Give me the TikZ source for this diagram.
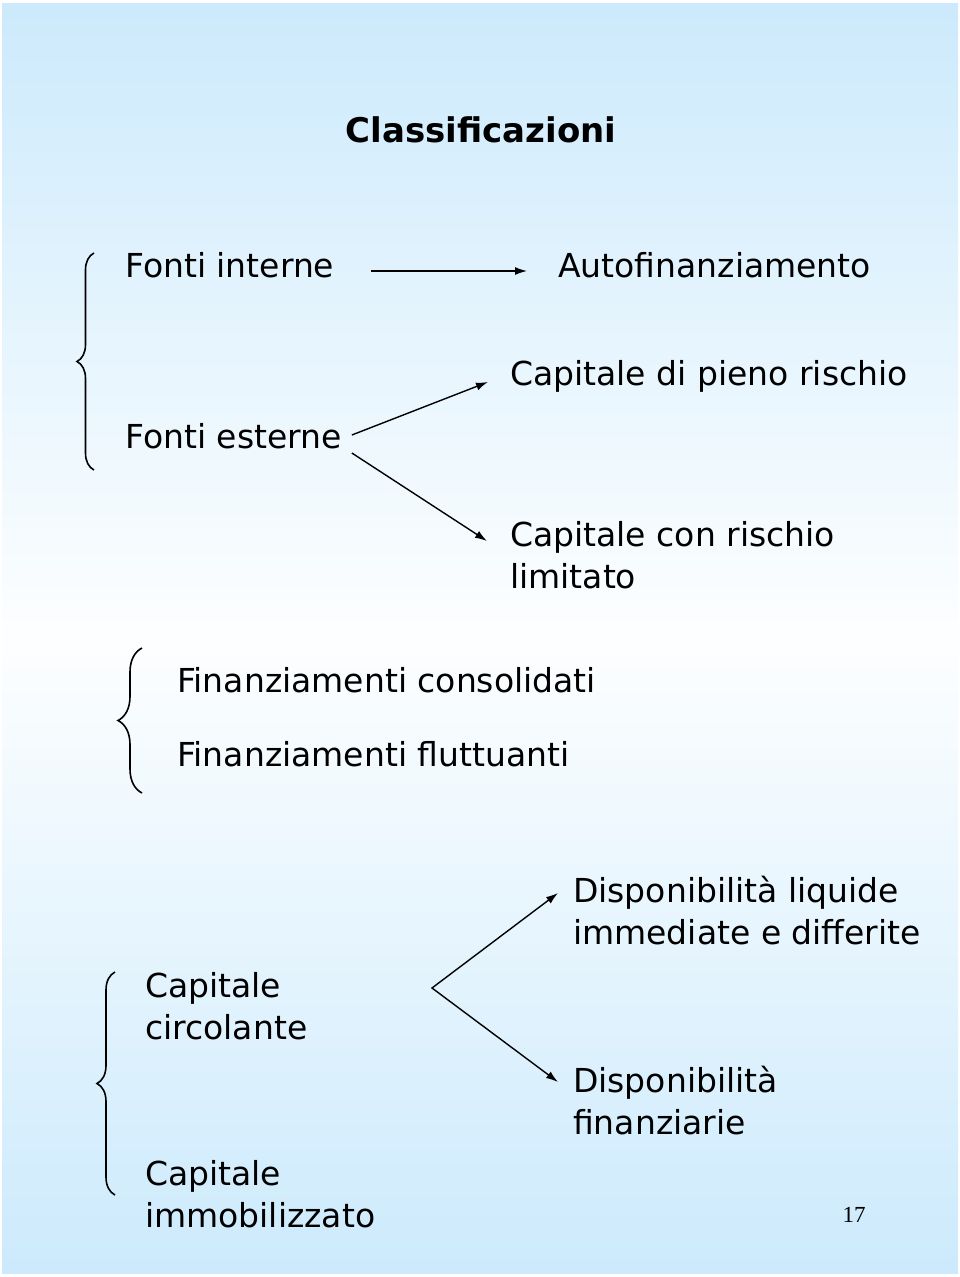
\documentclass[tikz,border=0pt]{standalone}
\usepackage{fontspec}
\setmainfont{DejaVu Sans}
\newfontfamily\pagenumfont{Liberation Serif}
\usepackage{xcolor}
\usetikzlibrary{arrows.meta,decorations.pathreplacing}
\definecolor{slideblue}{RGB}{204,234,252}

\begin{document}
\begin{tikzpicture}[x=1pt,y=-1pt,
  voce/.style={anchor=base west, inner sep=0pt, align=left, font=\fontsize{33}{42}\selectfont},
  freccia/.style={->, >={Latex[length=12pt,width=8pt]}, line width=1.4pt},
  graffa/.style={decorate, decoration={brace,amplitude=#1}, line width=1.6pt}]

% background %
\useasboundingbox (0,0) rectangle (960,1277);
\fill[white] (0,0) rectangle (960,1277);
\shade[top color=slideblue, bottom color=slideblue, middle color=white!96!slideblue] (2,3) rectangle (958,1273);

% nodes %
\node[anchor=base, inner sep=0pt, font=\bfseries\fontsize{34}{40}\selectfont] (titolo) at (481,142) {Classificazioni};
\node[voce] (fi) at (125,277) {Fonti interne};
\node[voce] (auto) at (558,277) {Autofinanziamento};
\node[voce] (fe) at (125,448) {Fonti esterne};
\node[voce] (cpr) at (510,385) {Capitale di pieno rischio};
\node[voce] (ccr) at (510,588) {Capitale con rischio\\limitato};
\node[voce] (fcons) at (177,692) {Finanziamenti consolidati};
\node[voce] (fflut) at (177,766) {Finanziamenti fluttuanti};
\node[voce] (ccirc) at (145,1039) {Capitale\\circolante};
\node[voce] (cimm) at (145,1227) {Capitale\\immobilizzato};
\node[voce] (dliq) at (573,944) {Disponibilità liquide\\immediate e differite};
\node[voce] (dfin) at (573,1134) {Disponibilità\\finanziarie};
\node[anchor=base, inner sep=0pt, font=\pagenumfont\fontsize{23}{28}\selectfont] (pag) at (854,1222) {17};
\coordinate (bivio) at (432,988);

% braces %
\draw[graffa=17] (94,470) -- (94,253);
\draw[graffa=24] (142,793) -- (142,648);
\draw[graffa=18] (115,1195) -- (115,972);

% edges %
\draw[freccia] ([shift={(37,-6)}]fi.base east) -- ([shift={(-31,-6)}]auto.base west);
\draw[freccia] ([shift={(10,-13)}]fe.base east) -- ([shift={(-22,-3)}]cpr.base west);
\draw[freccia] ([shift={(10,5)}]fe.base east) -- ([shift={(-23,-47)}]ccr.base west);
\draw[freccia, <->] ([shift={(-15,-51)}]dliq.base west) -- (bivio) -- ([shift={(-15,-52)}]dfin.base west);
\end{tikzpicture}
\end{document}
